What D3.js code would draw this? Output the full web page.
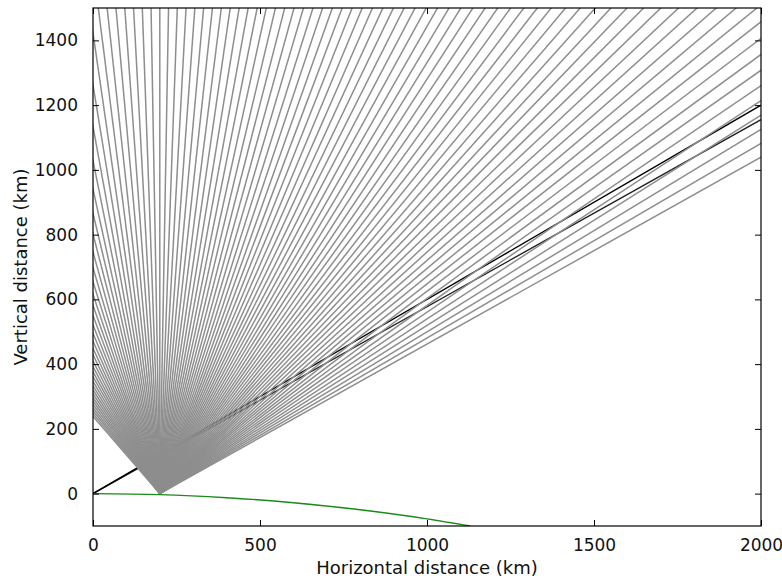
<!DOCTYPE html>
<html>
<head>
<meta charset="utf-8">
<script src="https://cdn.jsdelivr.net/npm/d3@7"></script>
<style>
  body { margin: 0; background: #fff; }
  text { font-family: 'DejaVu Sans', sans-serif; }
</style>
</head>
<body>
<div id="chart"></div>
<script>
// ray launch angles (degrees from horizontal) of the fan from the source point
var rayAngles = [30, 31, 32, 33, 34, 35, 36, 37, 38, 39, 40, 41, 42, 43, 44, 45, 46, 47, 48, 49,
  50, 51, 52, 53, 54, 55, 56, 57, 58, 59, 60, 61, 62, 63, 64, 65, 66, 67, 68, 69,
  70, 71, 72, 73, 74, 75, 76, 77, 78, 79, 80, 81, 82, 83, 84, 85, 86, 87, 88, 89,
  90, 91, 92, 93, 94, 95, 96, 97, 98, 99, 100, 101, 102, 103, 104, 105, 106, 107, 108, 109,
  110, 111, 112, 113, 114, 115, 116, 117, 118, 119, 120, 121, 122, 123, 124, 125, 126, 127, 128, 129, 130];
var source = [200, 0];

// dark lines from the origin: height reached at x = 2000 km
var darkEnds = [1155, 1200];
var darkColors = ['#222', '#000'];

// ground curve (km)
var groundX = [0, 200, 400, 600, 800, 1000, 1130];
var groundY = [0, -3, -12.6, -28, -50, -78, -100];

var xTicks = [0, 500, 1000, 1500, 2000];
var yTicks = [0, 200, 400, 600, 800, 1000, 1200, 1400];

var svgWidth = 782, svgHeight = 581;
var margin = {top: 8, right: 21, bottom: 55, left: 93};
var chartWidth = svgWidth - margin.left - margin.right;
var chartHeight = svgHeight - margin.top - margin.bottom;

var svg = d3.select('#chart').append('svg')
  .attr('width', svgWidth)
  .attr('height', svgHeight);

var chartGroup = svg.append('g')
  .attr('transform', `translate(${margin.left}, ${margin.top})`);

var xScale = d3.scaleLinear().domain([0, 2000]).range([0, chartWidth]);
var yScale = d3.scaleLinear().domain([-100, 1500]).range([chartHeight, 0]);

svg.append('defs').append('clipPath').attr('id', 'clip')
  .append('rect').attr('width', chartWidth).attr('height', chartHeight);

var plot = chartGroup.append('g').attr('clip-path', 'url(#clip)');

// dark lines underneath the fan
darkEnds.forEach(function(e, i) {
  plot.append('line')
    .attr('x1', xScale(0)).attr('y1', yScale(0))
    .attr('x2', xScale(2000)).attr('y2', yScale(e))
    .attr('stroke', darkColors[i])
    .attr('stroke-width', 1.4);
});

// fan of rays
var rayLen = 4000;
plot.selectAll('.ray')
  .data(rayAngles)
  .enter()
  .append('line')
  .attr('class', 'ray')
  .attr('x1', xScale(source[0]))
  .attr('y1', yScale(source[1]))
  .attr('x2', d => xScale(source[0] + rayLen * Math.cos(d * Math.PI / 180)))
  .attr('y2', d => yScale(source[1] + rayLen * Math.sin(d * Math.PI / 180)))
  .attr('stroke', '#8e8e8e')
  .attr('stroke-width', 1.5);

// ground
var ground = groundX.map((x, i) => [x, groundY[i]]);
plot.append('path')
  .datum(ground)
  .attr('fill', 'none')
  .attr('stroke', '#1a8a1a')
  .attr('stroke-width', 1.4)
  .attr('d', d3.line().x(d => xScale(d[0])).y(d => yScale(d[1])).curve(d3.curveMonotoneX));

// axes, matplotlib classic style (inside ticks on all sides)
var tl = 6;
var fmt = d3.format('d');
chartGroup.append('g')
  .attr('transform', `translate(0, ${chartHeight})`)
  .call(d3.axisBottom(xScale).tickValues(xTicks).tickFormat(fmt).tickSizeInner(-tl).tickSizeOuter(0).tickPadding(7 + tl))
  .call(g => g.select('.domain').remove());
chartGroup.append('g')
  .call(d3.axisTop(xScale).tickValues(xTicks).tickSizeInner(-tl).tickSizeOuter(0).tickFormat(''))
  .call(g => g.select('.domain').remove());
chartGroup.append('g')
  .call(d3.axisLeft(yScale).tickValues(yTicks).tickFormat(fmt).tickSizeInner(-tl).tickSizeOuter(0).tickPadding(9 + tl))
  .call(g => g.select('.domain').remove());
chartGroup.append('g')
  .attr('transform', `translate(${chartWidth}, 0)`)
  .call(d3.axisRight(yScale).tickValues(yTicks).tickSizeInner(-tl).tickSizeOuter(0).tickFormat(''))
  .call(g => g.select('.domain').remove());

chartGroup.selectAll('.tick text')
  .attr('font-size', '17px')
  .attr('font-family', 'DejaVu Sans, sans-serif')
  .attr('fill', '#111');
chartGroup.selectAll('.tick line').attr('stroke', '#000');

chartGroup.append('rect')
  .attr('width', chartWidth)
  .attr('height', chartHeight)
  .attr('fill', 'none')
  .attr('stroke', '#000')
  .attr('stroke-width', 1.2);

svg.append('text')
  .attr('x', margin.left + chartWidth / 2)
  .attr('y', 574)
  .attr('text-anchor', 'middle')
  .attr('font-size', '18px')
  .attr('fill', '#111')
  .text('Horizontal distance (km)');

svg.append('text')
  .attr('transform', `translate(27, ${margin.top + chartHeight / 2}) rotate(-90)`)
  .attr('text-anchor', 'middle')
  .attr('font-size', '18px')
  .attr('fill', '#111')
  .text('Vertical distance (km)');
</script>
</body>
</html>
